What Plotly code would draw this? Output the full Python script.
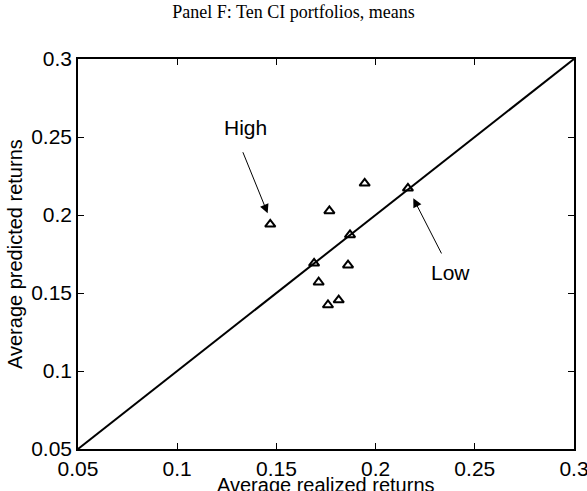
import plotly.graph_objects as go

# Average realized vs. predicted returns for ten CI portfolios
realized = [0.1469, 0.1945, 0.2163, 0.1767, 0.1871, 0.1690, 0.1861, 0.1713, 0.1814, 0.1760]
predicted = [0.1940, 0.2203, 0.2171, 0.2026, 0.1872, 0.1690, 0.1678, 0.1569, 0.1455, 0.1423]

axis_range = [0.05, 0.3]
tick_vals = [0.05, 0.1, 0.15, 0.2, 0.25, 0.3]
tick_text = ["0.05", "0.1", "0.15", "0.2", "0.25", "0.3"]

SANS = "Liberation Sans, Arial, Helvetica, sans-serif"
SERIF = "Liberation Serif, DejaVu Serif, serif"

fig = go.Figure()

# 45-degree reference line
fig.add_trace(go.Scatter(
    x=axis_range, y=axis_range, mode="lines",
    line=dict(color="black", width=2), hoverinfo="skip", showlegend=False,
))

# portfolio means
fig.add_trace(go.Scatter(
    x=realized, y=predicted, mode="markers",
    marker=dict(symbol="triangle-up-open", size=9, color="black",
                line=dict(color="black", width=2)),
    showlegend=False,
))

# labelled arrows for the extreme portfolios
fig.add_annotation(x=0.1456, y=0.2011, ax=0.1328, ay=0.2412, xref="x", yref="y",
                   axref="x", ayref="y", text="", showarrow=True,
                   arrowhead=2, arrowsize=1.8, arrowwidth=1, arrowcolor="black")
fig.add_annotation(x=0.1342, y=0.2558, text="High", showarrow=False,
                   font=dict(family=SANS, size=21, color="black"))
fig.add_annotation(x=0.2190, y=0.2107, ax=0.2336, ay=0.1744, xref="x", yref="y",
                   axref="x", ayref="y", text="", showarrow=True,
                   arrowhead=2, arrowsize=1.8, arrowwidth=1, arrowcolor="black")
fig.add_annotation(x=0.2378, y=0.1630, text="Low", showarrow=False,
                   font=dict(family=SANS, size=21, color="black"))

# axis titles
fig.add_annotation(x=0.5, y=-0.092, xref="paper", yref="paper", xanchor="center",
                   yanchor="middle", text="Average realized returns", showarrow=False,
                   font=dict(family=SANS, size=20, color="black"))
fig.add_annotation(x=-0.127, y=0.5, xref="paper", yref="paper", xanchor="center",
                   yanchor="middle", textangle=-90, text="Average predicted returns",
                   showarrow=False, font=dict(family=SANS, size=20, color="black"))

axis_common = dict(
    range=axis_range, tickvals=tick_vals, ticktext=tick_text,
    ticks="inside", ticklen=6, tickwidth=1, tickcolor="black",
    showline=True, linecolor="black", linewidth=1.5, mirror="ticks",
    showgrid=False, zeroline=False, automargin=False,
    ticklabeloverflow="allow",
    tickfont=dict(family=SANS, size=21, color="black"),
)

fig.update_layout(
    width=587, height=491,
    margin=dict(l=78, r=13, t=59, b=42),
    paper_bgcolor="white", plot_bgcolor="white",
    title=dict(text="Panel F: Ten CI portfolios, means",
               font=dict(family=SERIF, size=18, color="black"),
               x=0.5, xanchor="center", y=0.977, yanchor="middle"),
    xaxis=axis_common,
    yaxis=axis_common,
)

fig.write_html("out.html")
